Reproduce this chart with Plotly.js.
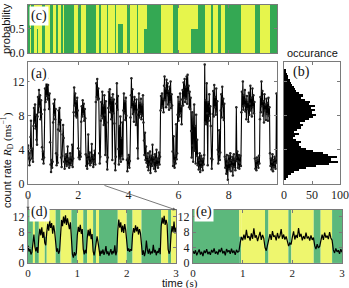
<!DOCTYPE html>
<html><head><meta charset="utf-8">
<script src="https://cdn.plot.ly/plotly-3.0.1.min.js"></script>
<style>html,body{margin:0;padding:0;background:#fff}#chart{width:349px;height:288px}</style>
</head><body><div id="chart"></div>
<script>
// ---- data ----
const traceDt = 0.02; // s, sampling interval of the count-rate trace
const rateTrace = [
4.5,3.0,3.6,2.2,2.8,5.5,7.4,4.2,3.0,4.1,2.6,6.8,8.9,7.2,9.3,6.5,8.1,5.2,4.6,7.9,10.2,8.4,11.0,9.1,10.4,
7.6,9.8,8.2,4.3,2.9,3.8,2.4,3.1,8.7,11.2,9.6,12.1,10.3,12.4,9.9,11.6,10.2,8.8,10.6,4.9,2.3,1.4,2.8,1.9,2.6,
7.2,9.4,8.1,9.9,7.6,8.8,3.6,2.2,3.4,2.5,6.4,8.6,7.0,8.9,6.2,7.5,3.1,2.0,3.3,5.8,6.9,5.4,2.6,1.8,3.2,
2.4,3.5,2.1,2.9,4.4,2.3,3.0,1.9,2.7,3.6,2.2,3.1,2.5,4.6,2.0,3.0,8.4,11.3,9.2,10.6,8.0,9.7,7.8,10.1,8.6,
4.2,3.1,3.8,2.9,3.6,3.2,7.3,9.1,7.9,9.8,8.2,9.4,7.4,8.8,7.7,3.5,2.1,3.3,1.8,2.9,5.8,3.4,2.4,3.7,2.2,
3.0,2.5,4.7,2.7,3.4,2.0,3.1,2.6,3.9,2.3,9.6,11.8,10.2,12.3,9.9,11.2,10.0,3.6,2.4,3.2,7.4,9.6,8.0,10.8,7.7,
9.2,6.9,10.4,8.1,3.4,9.7,7.2,2.6,1.7,3.1,8.9,10.8,9.2,11.1,8.4,10.1,7.6,9.8,2.8,10.5,8.3,9.9,7.1,2.4,1.6,
3.2,9.4,11.8,8.7,10.3,4.1,2.3,6.8,3.0,7.9,2.6,5.4,3.3,7.2,2.9,8.6,10.6,8.3,9.7,7.5,10.1,8.0,2.8,1.5,3.0,
2.2,3.4,1.9,2.7,7.8,10.4,12.4,9.0,11.1,8.2,9.6,7.3,10.2,8.5,9.4,6.9,9.9,8.1,4.2,3.0,8.7,10.6,7.8,9.5,8.2,
10.0,7.6,9.3,8.0,10.4,7.2,5.1,3.4,6.0,2.8,4.4,2.5,3.2,2.0,3.6,1.6,2.9,2.3,3.8,1.3,2.6,3.3,2.1,4.6,2.4,
3.1,1.8,2.7,3.5,1.5,2.9,4.0,2.2,3.0,1.9,2.8,3.7,2.3,3.2,8.6,10.3,8.9,10.6,9.1,10.0,8.4,11.5,12.6,9.8,11.2,
9.0,12.2,10.4,11.8,9.3,10.9,8.7,11.4,9.6,12.0,8.9,10.5,9.2,3.8,2.1,5.6,2.7,1.9,3.3,2.4,7.0,2.9,3.6,8.1,10.2,
7.4,9.6,7.9,10.6,8.3,9.1,7.0,9.9,11.0,9.2,11.9,10.1,12.3,9.6,11.4,10.0,12.6,9.4,12.8,10.7,11.5,9.0,10.8,8.8,10.1,
6.2,3.1,8.4,4.5,2.6,7.6,9.3,3.9,6.8,2.4,8.1,3.3,5.2,2.2,3.1,1.7,2.8,3.6,1.4,2.5,3.3,2.0,2.9,1.6,3.0,
2.3,3.4,14.0,7.2,9.8,7.0,11.8,8.3,2.2,9.6,7.4,10.5,8.0,9.1,6.8,3.0,1.8,2.9,8.2,10.9,7.9,11.6,9.0,10.2,8.1,
11.2,8.5,9.7,4.0,2.4,3.5,6.3,2.8,3.7,8.6,10.5,7.8,11.4,9.1,10.0,7.5,9.4,3.2,1.9,2.9,1.2,3.4,2.4,0.5,2.7,
3.3,1.7,2.5,3.6,1.5,2.8,2.1,3.2,1.0,2.6,3.5,2.0,2.9,1.6,3.1,9.0,2.7,3.8,1.9,2.6,3.4,1.8,2.5,3.3,2.1,
8.4,10.8,9.1,12.0,8.7,10.4,9.2,11.0,8.5,9.9,7.6,10.3,8.8,9.6,7.3,10.7,8.1,9.4,11.5,8.6,10.1,7.9,11.2,9.0,10.4,
8.3,9.6,3.0,1.8,2.7,1.6,3.1,2.2,2.8,1.9,3.3,2.4,7.6,10.2,8.4,12.0,9.1,10.9,8.0,9.7,7.2,10.5,8.6,9.3,7.5,
10.0,8.2,9.5,7.4,10.1,8.0,9.0,3.6,2.1,3.0,1.7,2.6,3.5,1.5,2.8,2.0,3.2,2.4,1.8,3.0,10.6,2.5,3.1,2.0,2.7
];

// probability of the green (low-rate) state per segment of the full trace
const stateStart = [0.00,0.10,0.14,0.22,0.34,0.38,0.56,0.66,0.88,1.00,1.12,1.20,1.32,1.38,1.44,1.82,2.00,2.12,2.30,2.70,2.84,2.90,3.14,3.20,3.46,3.52,3.60,3.80,3.94,4.08,4.36,4.40,4.62,4.75,5.28,5.76,5.96,6.50,6.77,7.04,7.30,7.36,7.56,7.68,7.84,8.50,9.04,9.24,9.64];
const stateEnd = 9.92;
const stateGreen = [1,0,1,0,0.5,0,1,0,1,0,1,0,1,0,1,0,1,0,1,0,1,0,1,0,1,0,0.6,0,1,0,1,0,0.5,1,0,1,0,0.5,1,0,1,0,1,0,1,0,1,0,1];

// histogram (b)
const histRate = [0.625,0.875,1.125,1.375,1.625,1.875,2.125,2.375,2.625,2.875,3.125,3.375,3.625,3.875,4.125,4.375,4.625,4.875,5.125,5.375,5.625,5.875,6.125,6.375,6.625,6.875,7.125,7.375,7.625,7.875,8.125,8.375,8.625,8.875,9.125,9.375,9.625,9.875,10.125,10.375,10.625,10.875,11.125,11.375,11.625,11.875,12.125,12.375,12.625,12.875,13.125,13.375];
const histCount = [3,8,12,18,26,40,58,80,96,84,94,78,70,52,40,30,26,30,22,16,20,26,18,24,30,34,28,38,44,52,58,50,56,48,55,44,47,38,30,34,26,22,20,18,14,12,10,8,7,5,4,3];
const histBinWidth = 0.25;

// panel (e)
const eDt = 0.025;
const eRate = [
3.1,2.4,3.3,2.0,2.8,3.5,2.2,2.9,1.8,3.2,2.6,3.6,2.3,2.9,2.1,3.4,2.7,3.8,2.4,3.0,2.2,3.5,2.8,3.9,2.5,3.1,2.0,3.6,2.9,3.3,2.4,3.7,2.6,3.2,2.1,3.4,2.8,3.0,
5.2,6.8,5.9,7.4,6.1,8.6,6.5,7.0,5.8,7.7,6.3,9.0,6.6,7.2,5.7,6.9,8.1,6.0,7.3,6.4,
4.0,3.2,4.6,
6.2,7.5,6.0,8.3,6.8,7.1,5.9,7.8,6.4,7.0,8.8,6.3,7.4,6.1,6.9,5.6,
4.4,5.2,4.8,
6.7,8.2,6.1,7.3,6.5,9.1,6.8,7.6,5.9,7.0,6.2,7.9,6.4,6.9,5.8,7.2,6.0,6.6,
4.5,3.6,4.9,3.9,4.3,
6.3,7.4,6.0,7.9,6.6,7.1,6.2,8.0,6.5,5.9,
3.4,2.6,3.8,2.9,3.3,2.4,3.6,2.8
];
const eStateStart = [0.00,0.93,0.97,1.45,1.52,1.92,1.98,2.43,2.57,2.80];
const eStateEnd = 3.0;
const eStateGreen = [1,0.5,0,1,0,1,0,1,0,1];

const zoomEnd = 3.0; // panel (d) shows 0-3 s of the trace

// ---- helpers ----
const r3 = v => Math.round(v*1000)/1000;
const tA = rateTrace.map((_, i) => r3(i*traceDt));
const tE = eRate.map((_, i) => r3(i*eDt));
function segs(starts, end, probs, limit){
  const s0=[], s1=[], mid=[], w=[], g=[], y=[];
  for (let i=0;i<starts.length;i++){
    const s = starts[i];
    let e = i+1<starts.length ? starts[i+1] : end;
    if (limit!==undefined){ if (s>=limit) break; e = Math.min(e, limit); }
    s0.push(s); s1.push(e); mid.push((s+e)/2); w.push(e-s); g.push(probs[i]); y.push(1-probs[i]);
  }
  return {s0,s1,mid,w,g,y};
}
const segC = segs(stateStart, stateEnd, stateGreen);
const segD = segs(stateStart, stateEnd, stateGreen, zoomEnd);
const segE = segs(eStateStart, eStateEnd, eStateGreen);
const dIdx = tA.map((t,i)=>i).filter(i=>tA[i]<=zoomEnd);

const G1='#34a853', Y1='#e6f54c', G2='#5cb87c', Y2='#eef66e';

function bgShapes(seg, xa, ya, g, yc){
  const out=[];
  for (let i=0;i<seg.s0.length;i++){
    if (seg.g[i]>0) out.push({type:'rect', xref:xa, yref:ya+' domain', x0:seg.s0[i], x1:seg.s1[i], y0:0, y1:seg.g[i],
      fillcolor:g, line:{width:0}, layer:'below'});
    if (seg.y[i]>0) out.push({type:'rect', xref:xa, yref:ya+' domain', x0:seg.s0[i], x1:seg.s1[i], y0:seg.g[i], y1:1,
      fillcolor:yc, line:{width:0}, layer:'below'});
  }
  return out;
}

const traces = [
  {type:'bar', x:segC.mid, y:segC.g, width:segC.w, xaxis:'x', yaxis:'y', marker:{color:G1, line:{width:0}}, showlegend:false},
  {type:'bar', x:segC.mid, y:segC.y, width:segC.w, xaxis:'x', yaxis:'y', marker:{color:Y1, line:{width:0}}, showlegend:false},
  {type:'scatter', mode:'lines+markers', x:tA, y:rateTrace, xaxis:'x2', yaxis:'y2',
   line:{color:'#000', width:1.1}, marker:{size:2.5, color:'#222'}, showlegend:false},
  {type:'bar', orientation:'h', y:histRate, x:histCount, width:histBinWidth, xaxis:'x3', yaxis:'y3',
   marker:{color:'#000', line:{width:0}}, showlegend:false},
  {type:'scatter', mode:'lines', x:dIdx.map(i=>tA[i]), y:dIdx.map(i=>rateTrace[i]), xaxis:'x4', yaxis:'y4',
   line:{color:'#000', width:1.2}, showlegend:false},
  {type:'scatter', mode:'lines', x:tE, y:eRate, xaxis:'x5', yaxis:'y5',
   line:{color:'#000', width:1.2}, showlegend:false}
];

const FR='#7a7a7a';
const serif="'Liberation Serif', 'DejaVu Serif', serif";
const sans="'Liberation Sans', Arial, sans-serif";
function ax(extra){
  return Object.assign({showline:true, mirror:'ticks', linecolor:FR, linewidth:1, ticks:'inside', ticklen:3,
    tickcolor:FR, tickwidth:1, showgrid:false, zeroline:false, fixedrange:true,
    tickfont:{family:serif, size:12, color:'#222'}}, extra);
}
const smallTick = {family:serif, size:11, color:'#222'};
const xA=[0.0802,0.7937], yC=[0.816,0.983], yA=[0.361,0.785], xB=[0.8138,0.9742], yD=[0.087,0.271], xD=[0.0802,0.5043], xE=[0.553,0.98];

function lab(t, xr, yr, x, y){
  return {text:t, xref:xr+' domain', yref:yr+' domain', x:x, y:y, xanchor:'left', yanchor:'top', showarrow:false,
    bgcolor:'#fff', borderpad:1, font:{family:serif, size:14, color:'#111'}};
}
function txt(t, x, y, angle){
  return {text:t, xref:'paper', yref:'paper', x:x/349, y:1-y/288, xanchor:'center', yanchor:'middle',
    textangle:angle||0, showarrow:false, font:{family:sans, size:11, color:'#111'}};
}

const layout = {
  width:349, height:288, margin:{l:0,r:0,t:0,b:0}, paper_bgcolor:'#fff', plot_bgcolor:'#fff',
  barmode:'stack', bargap:0, showlegend:false,
  xaxis: ax({domain:xA, range:[0,stateEnd], anchor:'y', tickvals:[0,2,4,6,8], showticklabels:false}),
  yaxis: ax({domain:yC, range:[0,1], anchor:'x', tickvals:[0,0.5,1], ticktext:['0.0','0.5','1.0']}),
  xaxis2: ax({domain:xA, range:[0,stateEnd], anchor:'y2', tickvals:[0,2,4,6,8]}),
  yaxis2: ax({domain:yA, range:[0,14.3], anchor:'x2', tickvals:[0,4,8,12]}),
  xaxis3: ax({domain:xB, range:[0,100], anchor:'y3', tickvals:[0,50,100]}),
  yaxis3: ax({domain:yA, range:[0,14.3], anchor:'x3', tickvals:[0,4,8,12], showticklabels:false}),
  xaxis4: ax({domain:xD, range:[0,3], anchor:'y4', tickvals:[0,1,2,3], tickfont:smallTick}),
  yaxis4: ax({domain:yD, range:[0,13.8], anchor:'x4', tickvals:[0,4,8,12]}),
  xaxis5: ax({domain:xE, range:[0,3], anchor:'y5', tickvals:[0,1,2,3], tickfont:smallTick}),
  yaxis5: ax({domain:yD, range:[0,13.8], anchor:'x5', tickvals:[0,4,8,12]}),
  shapes: [...bgShapes(segD,'x4','y4',G2,Y2), ...bgShapes(segE,'x5','y5',G2,Y2)],
  annotations: [
    lab('(c)','x','y',0.006,0.97),
    lab('(a)','x2','y2',0.004,0.985),
    lab('(b)','x3','y3',0.13,1.0),
    lab('(d)','x4','y4',0.006,1.15),
    lab('(e)','x5','y5',0.006,1.15),
    txt('probability', 6, 29, -90),
    txt('occurance', 312, 53),
    txt('count rate <span style="font-family:\'Liberation Serif\'"><i>R</i><sub>D</sub> (ms<sup>−1</sup>)</span>', 7, 160, -90),
    txt('time <span style="font-family:\'Liberation Serif\'">(s)</span>', 180, 283.5),
    {text:'', xref:'x4', yref:'y4', x:3, y:13.8, ax:-73, ay:-25, axref:'pixel', ayref:'pixel', showarrow:true,
     arrowhead:2, arrowsize:0.8, arrowwidth:0.8, arrowcolor:'#555'},
    {text:'', xref:'x4', yref:'y4', x:0, y:13.8, ax:0, ay:-15, axref:'pixel', ayref:'pixel', showarrow:true,
     arrowhead:2, arrowsize:0.8, arrowwidth:0.8, arrowcolor:'#555'}
  ]
};
Plotly.newPlot('chart', traces, layout, {staticPlot:true, displayModeBar:false});
</script></body></html>
